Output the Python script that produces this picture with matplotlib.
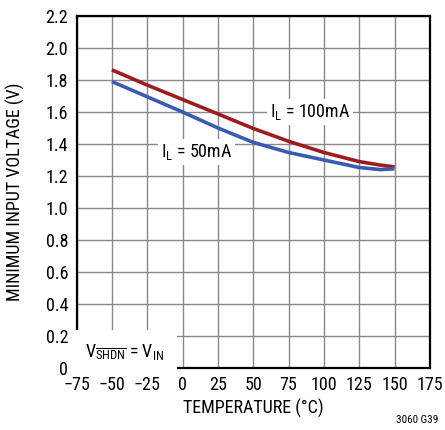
import numpy as np
import matplotlib
matplotlib.use('Agg')
import matplotlib.pyplot as plt

# データ
temp = [-50, -25, 0, 25, 50, 75, 100, 125, 140, 150]
v_100ma = [1.863, 1.768, 1.678, 1.588, 1.497, 1.417, 1.347, 1.29, 1.268, 1.257]
v_50ma = [1.79, 1.695, 1.60, 1.50, 1.41, 1.347, 1.30, 1.253, 1.24, 1.245]

x_ticks = [-75, -50, -25, 0, 25, 50, 75, 100, 125, 150, 175]
y_ticks = [0, 0.2, 0.4, 0.6, 0.8, 1.0, 1.2, 1.4, 1.6, 1.8, 2.0, 2.2]

red = '#9c1c20'
blue = '#3a5bb0'

plt.rcParams['font.family'] = ['Roboto Condensed', 'Liberation Sans', 'DejaVu Sans']
plt.rcParams['mathtext.fontset'] = 'custom'
plt.rcParams['mathtext.rm'] = 'Roboto Condensed'

fig = plt.figure(figsize=(4.45, 4.3), dpi=100)
ax = fig.add_axes([0.172, 0.144, 0.794, 0.819])

ax.plot(temp, v_100ma, color=red, lw=2.6, solid_capstyle='butt', zorder=3)
ax.plot(temp, v_50ma, color=blue, lw=2.6, solid_capstyle='butt', zorder=3)

ax.set_xlim(-75, 175)
ax.set_ylim(0, 2.2)
ax.set_xticks(x_ticks)
ax.set_yticks(y_ticks)
ax.set_yticklabels(['0', '0.2', '0.4', '0.6', '0.8', '1.0', '1.2', '1.4',
                    '1.6', '1.8', '2.0', '2.2'])
ax.tick_params(length=0, labelsize=13)
ax.tick_params(axis='x', pad=6)
ax.tick_params(axis='y', pad=6)
ax.grid(True, color='#888888', lw=1.0)
ax.set_axisbelow(True)
for s in ax.spines.values():
    s.set_linewidth(1.6)

ax.set_xlabel('TEMPERATURE (°C)', fontsize=13, labelpad=3)
ax.set_ylabel('MINIMUM INPUT VOLTAGE (V)', fontsize=13, labelpad=15)

box = dict(facecolor='white', edgecolor='none', pad=2)
ax.text(90, 1.6, r'$\mathregular{I_L}$ = 100mA', fontsize=13,
        ha='center', va='center', bbox=box, zorder=4)
ax.text(10, 1.35, r'$\mathregular{I_L}$ = 50mA', fontsize=13,
        ha='center', va='center', bbox=box, zorder=4)
ax.text(-69, 0.1, r'$\mathregular{V_{\overline{SHDN}}}$ = $\mathregular{V_{IN}}$',
        fontsize=13, ha='left', va='center',
        bbox=dict(facecolor='white', edgecolor='none', pad=9), zorder=4)

fig.text(0.985, 0.012, '3060 G39', fontsize=8, ha='right', va='bottom')

fig.savefig('out.png', dpi=100)
